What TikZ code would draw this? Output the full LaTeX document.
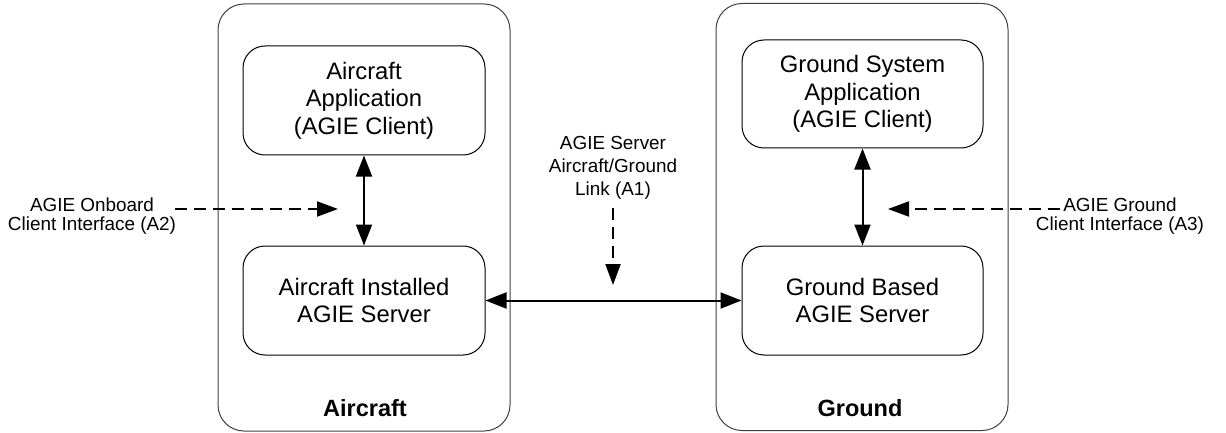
\documentclass[tikz,border=0pt]{standalone}
\usepackage{fontspec}
\setmainfont{Liberation Sans}
\usepackage{tikz}
\usetikzlibrary{arrows, arrows.meta, positioning}

\begin{document}
\begin{tikzpicture}[x=1pt, y=-1pt,
		sidebox/.style={draw=black!75, line width=1pt, rounded corners=26pt, minimum width=292pt, minimum height=427pt},
		unit/.style={draw, line width=1pt, rounded corners=22pt, minimum width=242pt, minimum height=109pt, align=center, font=\fontsize{23.8}{27.5}\selectfont},
		iface/.style={align=center, font=\fontsize{18.9}{19.7}\selectfont},
		link/.style={line width=2pt, {Triangle[length=21pt,width=16pt]}-{Triangle[length=21pt,width=16pt]}},
		pointer/.style={line width=2pt, dash pattern=on 12pt off 7pt, -{Triangle[length=21pt,width=15pt]}}]
		\useasboundingbox (0,0) rectangle (1226,433);
		% the two sides
		\node[sidebox] (aircraft) at (364,217.5) {};
		\node[sidebox] (ground) at (862,217) {};
		\node[font=\fontsize{23.5}{26}\selectfont\bfseries] (aircraftname) at (365,408) {Aircraft};
		\node[font=\fontsize{23.5}{26}\selectfont\bfseries] (groundname) at (860,408) {Ground};
		% applications and servers
		\node[unit] (acapp) at (364,100.5) {Aircraft\\Application\\(AGIE Client)};
		\node[unit] (acsrv) at (364,300.5) {Aircraft Installed\\AGIE Server};
		\node[unit, minimum width=241pt, minimum height=108pt] (gdapp) at (862.5,94) {Ground System\\Application\\(AGIE Client)};
		\node[unit, minimum width=241pt] (gdsrv) at (862.5,300.5) {Ground Based\\AGIE Server};
		\draw[link] (acapp.south) -- (acsrv.north);
		\draw[link] (gdapp.south) -- (gdsrv.north);
		\draw[link] (acsrv.east) -- (gdsrv.west);
		% interfaces
		\node[iface] (ifA2) at (92,216) {AGIE Onboard\\Client Interface (A2)};
		\node[iface] (ifA3) at (1120,216) {AGIE Ground\\Client Interface (A3)};
		\node[iface, font=\fontsize{18.9}{22.7}\selectfont] (ifA1) at (613,168) {AGIE Server\\Aircraft/Ground\\Link (A1)};
		\coordinate (a2start) at (175,209);
		\coordinate (a2end) at (338,209);
		\coordinate (a3start) at (1060,209);
		\coordinate (a3end) at (888,209);
		\coordinate (a1start) at (613,208);
		\coordinate (a1end) at (613,285);
		\draw[pointer] (a2start) -- (a2end);
		\draw[pointer] (a3start) -- (a3end);
		\draw[pointer] (a1start) -- (a1end);
	\end{tikzpicture}
\end{document}
